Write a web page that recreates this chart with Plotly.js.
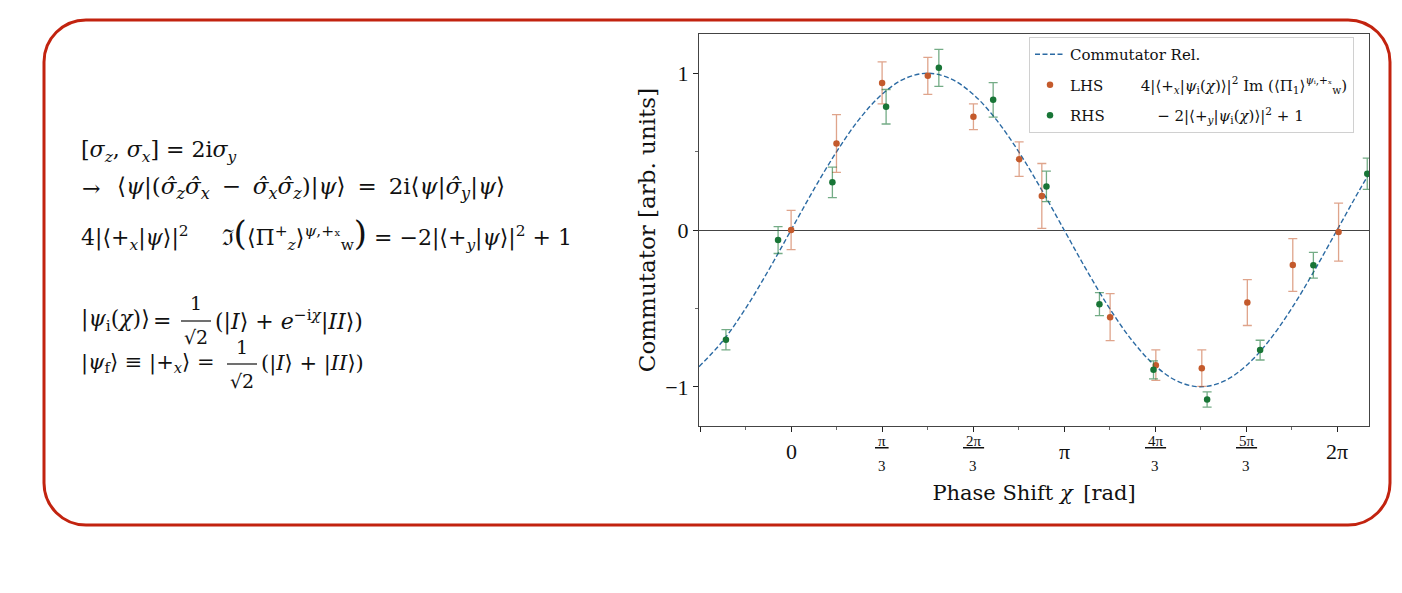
<!DOCTYPE html>
<html>
<head>
<meta charset="utf-8">
<script src="https://cdn.plot.ly/plotly-3.0.1.min.js"></script>
<style>html,body{margin:0;padding:0;background:#fff;}#chart{width:1402px;height:593px;}</style>
</head>
<body>
<div id="chart"></div>
<script>
// ---- data ----
var curveChi = [-1.06,-0.785,-0.524,-0.262,0,0.262,0.524,0.785,1.047,1.309,1.571,1.833,2.094,2.356,2.618,2.880,3.142,3.403,3.665,3.927,4.189,4.451,4.712,4.974,5.236,5.498,5.760,6.021,6.283,6.545,6.65];
var curveVal = [-0.872,-0.707,-0.5,-0.259,0,0.259,0.5,0.707,0.866,0.966,1,0.966,0.866,0.707,0.5,0.259,0,-0.259,-0.5,-0.707,-0.866,-0.966,-1,-0.966,-0.866,-0.707,-0.5,-0.259,0,0.259,0.357];

var lhsChi = [0, 0.522, 1.047, 1.573, 2.098, 2.624, 2.885, 3.671, 4.197, 4.726, 5.25, 5.773, 6.30];
var lhsVal = [0.00, 0.552, 0.938, 0.983, 0.722, 0.452, 0.217, -0.556, -0.862, -0.881, -0.463, -0.223, -0.013];
var lhsErr = [0.125, 0.184, 0.134, 0.118, 0.082, 0.11, 0.207, 0.15, 0.097, 0.116, 0.146, 0.168, 0.185];

var rhsChi = [-0.75, -0.15, 0.475, 1.093, 1.70, 2.325, 2.938, 3.548, 4.17, 4.787, 5.397, 6.01, 6.63];
var rhsVal = [-0.70, -0.064, 0.304, 0.786, 1.034, 0.83, 0.278, -0.473, -0.892, -1.081, -0.766, -0.225, 0.359];
var rhsErr = [0.065, 0.086, 0.097, 0.11, 0.118, 0.11, 0.097, 0.073, 0.057, 0.048, 0.063, 0.082, 0.1];

var xMajorVals = [-Math.PI/3, 0, Math.PI/3, 2*Math.PI/3, Math.PI, 4*Math.PI/3, 5*Math.PI/3, 2*Math.PI];
var xMinorVals = [-Math.PI/6, Math.PI/6, Math.PI/2, 5*Math.PI/6, 7*Math.PI/6, 3*Math.PI/2, 11*Math.PI/6];
var xLabelVals = [0, Math.PI/3, 2*Math.PI/3, Math.PI, 4*Math.PI/3, 5*Math.PI/3, 2*Math.PI];
var xLabelNum = ['0', 'π', '2π', 'π', '4π', '5π', '2π'];
var xLabelDen = ['', '3', '3', '', '3', '3', ''];
var yTickVals = [-1, 0, 1];
var yTickText = ['−1', '0', '1'];

// ---- layout helpers ----
var W = 1402, H = 593, PL = 699, PR = 1369, PT = 34, PB = 426;
function px(x) { return (x - PL) / (PR - PL); }
function py(y) { return (PB - y) / (PB - PT); }
var SERIF = 'Liberation Serif, DejaVu Serif, serif';
var WIDE = 'DejaVu Serif, Liberation Serif, serif';

var orange = '#c45a2c', green = '#187536', blue = '#2b6aa3';

var traces = [
  {x: curveChi, y: curveVal, type: 'scatter', mode: 'lines', name: 'Commutator Rel.', legendgroup: 'a',
   line: {color: blue, width: 1.4, dash: '5px,2.5px', shape: 'spline'}, hoverinfo: 'skip'},
  {x: lhsChi, y: lhsVal, type: 'scatter', mode: 'markers', legendgroup: 'b',
   name: 'LHS\u2003\u2003\u20024|⟨+<sub><i>x</i></sub>|<i>ψ</i><sub>i</sub>(<i>χ</i>)⟩|<sup>2</sup> Im (⟨Π<sub>1</sub>⟩<sup><i>ψ</i>ᵢ,+ₓ</sup><sub>w</sub>)',
   marker: {color: orange, size: 6.5},
   error_y: {type: 'data', array: lhsErr, visible: true, color: 'rgba(196,90,44,0.55)', thickness: 1.3, width: 4.5}},
  {x: rhsChi, y: rhsVal, type: 'scatter', mode: 'markers', legendgroup: 'c',
   name: 'RHS\u2003\u2003\u2003\u2002− 2|⟨+<sub><i>y</i></sub>|<i>ψ</i><sub>i</sub>(<i>χ</i>)⟩|<sup>2</sup> + 1',
   marker: {color: green, size: 6.5},
   error_y: {type: 'data', array: rhsErr, visible: true, color: 'rgba(24,117,54,0.6)', thickness: 1.3, width: 4.5}}
];

var annotations = [];
// x tick labels
for (var i = 0; i < xLabelVals.length; i++) {
  if (xLabelDen[i] === '') {
    annotations.push({x: xLabelVals[i], y: py(451), xref: 'x', yref: 'paper', text: xLabelNum[i],
      showarrow: false, xanchor: 'center', yanchor: 'middle', font: {family: SERIF, size: 22, color: '#111'}});
  } else {
    annotations.push({x: xLabelVals[i], y: py(441), xref: 'x', yref: 'paper', text: '<u>\u2009' + xLabelNum[i] + '\u2009</u>',
      showarrow: false, xanchor: 'center', yanchor: 'middle', font: {family: SERIF, size: 15, color: '#111'}});
    annotations.push({x: xLabelVals[i], y: py(466), xref: 'x', yref: 'paper', text: xLabelDen[i],
      showarrow: false, xanchor: 'center', yanchor: 'middle', font: {family: SERIF, size: 15, color: '#111'}});
  }
}

// left-hand equations
function eq(text, x, y, anchor, size) {
  annotations.push({x: px(x), y: py(y), xref: 'paper', yref: 'paper', text: text, showarrow: false,
    xanchor: anchor || 'left', yanchor: 'middle', font: {family: WIDE, size: size || 22, color: '#111'}});
}
var TS = '\u2009';
eq('[<i>σ</i><sub><i>z</i></sub>, <i>σ</i><sub><i>x</i></sub>] = 2i<i>σ</i><sub><i>y</i></sub>', 79, 151);
eq('→', 80, 188);
eq('⟨<i>ψ</i>|(<i>σ̂</i><sub><i>z</i></sub><i>σ̂</i><sub><i>x</i></sub>' + TS + ' − ' + TS + '<i>σ̂</i><sub><i>x</i></sub><i>σ̂</i><sub><i>z</i></sub>)|<i>ψ</i>⟩' + TS + ' = ' + TS + '2i⟨<i>ψ</i>|<i>σ̂</i><sub><i>y</i></sub>|<i>ψ</i>⟩', 115, 188, 'left', 23);
eq('4|⟨+<sub><i>x</i></sub>|<i>ψ</i>⟩|<sup>2</sup>\u2003\u2002ℑ<span style="font-size:34px">(</span>⟨Π<sup>+</sup><sub><i>z</i></sub>⟩<sup><i>ψ</i>,+ₓ</sup><sub>w</sub><span style="font-size:34px">)</span> = −2|⟨+<sub><i>y</i></sub>|<i>ψ</i>⟩|<sup>2</sup> + 1', 79, 233);
eq('|<i>ψ</i><sub>i</sub>(<i>χ</i>)⟩', 79, 320);
eq('=', 162, 320, 'center');
eq('1', 196, 303, 'center', 19);
eq('√2', 196, 337, 'center', 19);
eq('(|<i>I</i>⟩ + <i>e</i><sup>−i<i>χ</i></sup>|<i>II</i>⟩)', 213, 320);
eq('|<i>ψ</i><sub>f</sub>⟩ ≡ |+<sub><i>x</i></sub>⟩ =', 79, 363, 'left', 21);
eq('1', 242, 347, 'center', 19);
eq('√2', 242, 381, 'center', 19);
eq('(|<i>I</i>⟩ + |<i>II</i>⟩)', 259, 363, 'left', 21);

// rounded red frame
var L = 44, R = 1390, T = 20, B = 525, r = 42, k = 0.4477 * r;
function P(x, y) { return px(x).toFixed(5) + ',' + py(y).toFixed(5); }
var framePath = 'M' + P(L + r, T) + ' L' + P(R - r, T) +
  ' C' + P(R - k, T) + ' ' + P(R, T + k) + ' ' + P(R, T + r) +
  ' L' + P(R, B - r) +
  ' C' + P(R, B - k) + ' ' + P(R - k, B) + ' ' + P(R - r, B) +
  ' L' + P(L + r, B) +
  ' C' + P(L + k, B) + ' ' + P(L, B - k) + ' ' + P(L, B - r) +
  ' L' + P(L, T + r) +
  ' C' + P(L, T + k) + ' ' + P(L + k, T) + ' ' + P(L + r, T) + ' Z';

var shapes = [
  {type: 'path', xref: 'paper', yref: 'paper', path: framePath, line: {color: '#c2230f', width: 3}, layer: 'below'},
  {type: 'line', xref: 'paper', yref: 'paper', x0: px(181), x1: px(211), y0: py(321), y1: py(321), line: {color: '#111', width: 1.2}},
  {type: 'line', xref: 'paper', yref: 'paper', x0: px(227), x1: px(257), y0: py(364), y1: py(364), line: {color: '#111', width: 1.2}}
];

var layout = {
  width: W, height: H,
  margin: {l: PL, r: W - PR, t: PT, b: H - PB, pad: 0},
  paper_bgcolor: '#fff', plot_bgcolor: '#fff',
  font: {family: SERIF, color: '#111'},
  showlegend: true,
  legend: {x: px(1029), y: py(37), xanchor: 'left', yanchor: 'top', bgcolor: 'rgba(255,255,255,0.9)',
    bordercolor: '#d0d0d0', borderwidth: 1, font: {family: WIDE, size: 15, color: '#111'},
    tracegroupgap: 8, itemwidth: 30},
  xaxis: {range: [-1.06, 6.65], tickmode: 'array', tickvals: xMajorVals, ticktext: xMajorVals.map(function(){return '';}),
    showticklabels: false, ticks: 'outside', ticklen: 5, tickwidth: 1, tickcolor: '#222',
    minor: {tickmode: 'array', tickvals: xMinorVals, ticks: 'outside', ticklen: 3, tickwidth: 0.8, tickcolor: '#444'},
    showline: true, mirror: true, linecolor: '#444', linewidth: 1, showgrid: false, zeroline: false,
    title: {text: 'Phase Shift <i>χ</i>\u2002[rad]', font: {family: WIDE, size: 21, color: '#111'}, standoff: 54}},
  yaxis: {range: [-1.25, 1.25], tickmode: 'array', tickvals: yTickVals, ticktext: yTickText,
    ticks: 'outside', ticklen: 5, tickwidth: 1, tickcolor: '#222',
    tickfont: {family: SERIF, size: 22, color: '#111'},
    minor: {tickmode: 'array', tickvals: [-0.5, 0.5], ticks: 'outside', ticklen: 3, tickwidth: 0.8, tickcolor: '#444'},
    showline: true, mirror: true, linecolor: '#444', linewidth: 1, showgrid: false,
    zeroline: true, zerolinecolor: '#444', zerolinewidth: 1,
    title: {text: 'Commutator [arb. units]', font: {family: WIDE, size: 23, color: '#111'}, standoff: 3}},
  annotations: annotations,
  shapes: shapes
};

Plotly.newPlot('chart', traces, layout, {displayModeBar: false, staticPlot: true});
</script>
</body>
</html>
